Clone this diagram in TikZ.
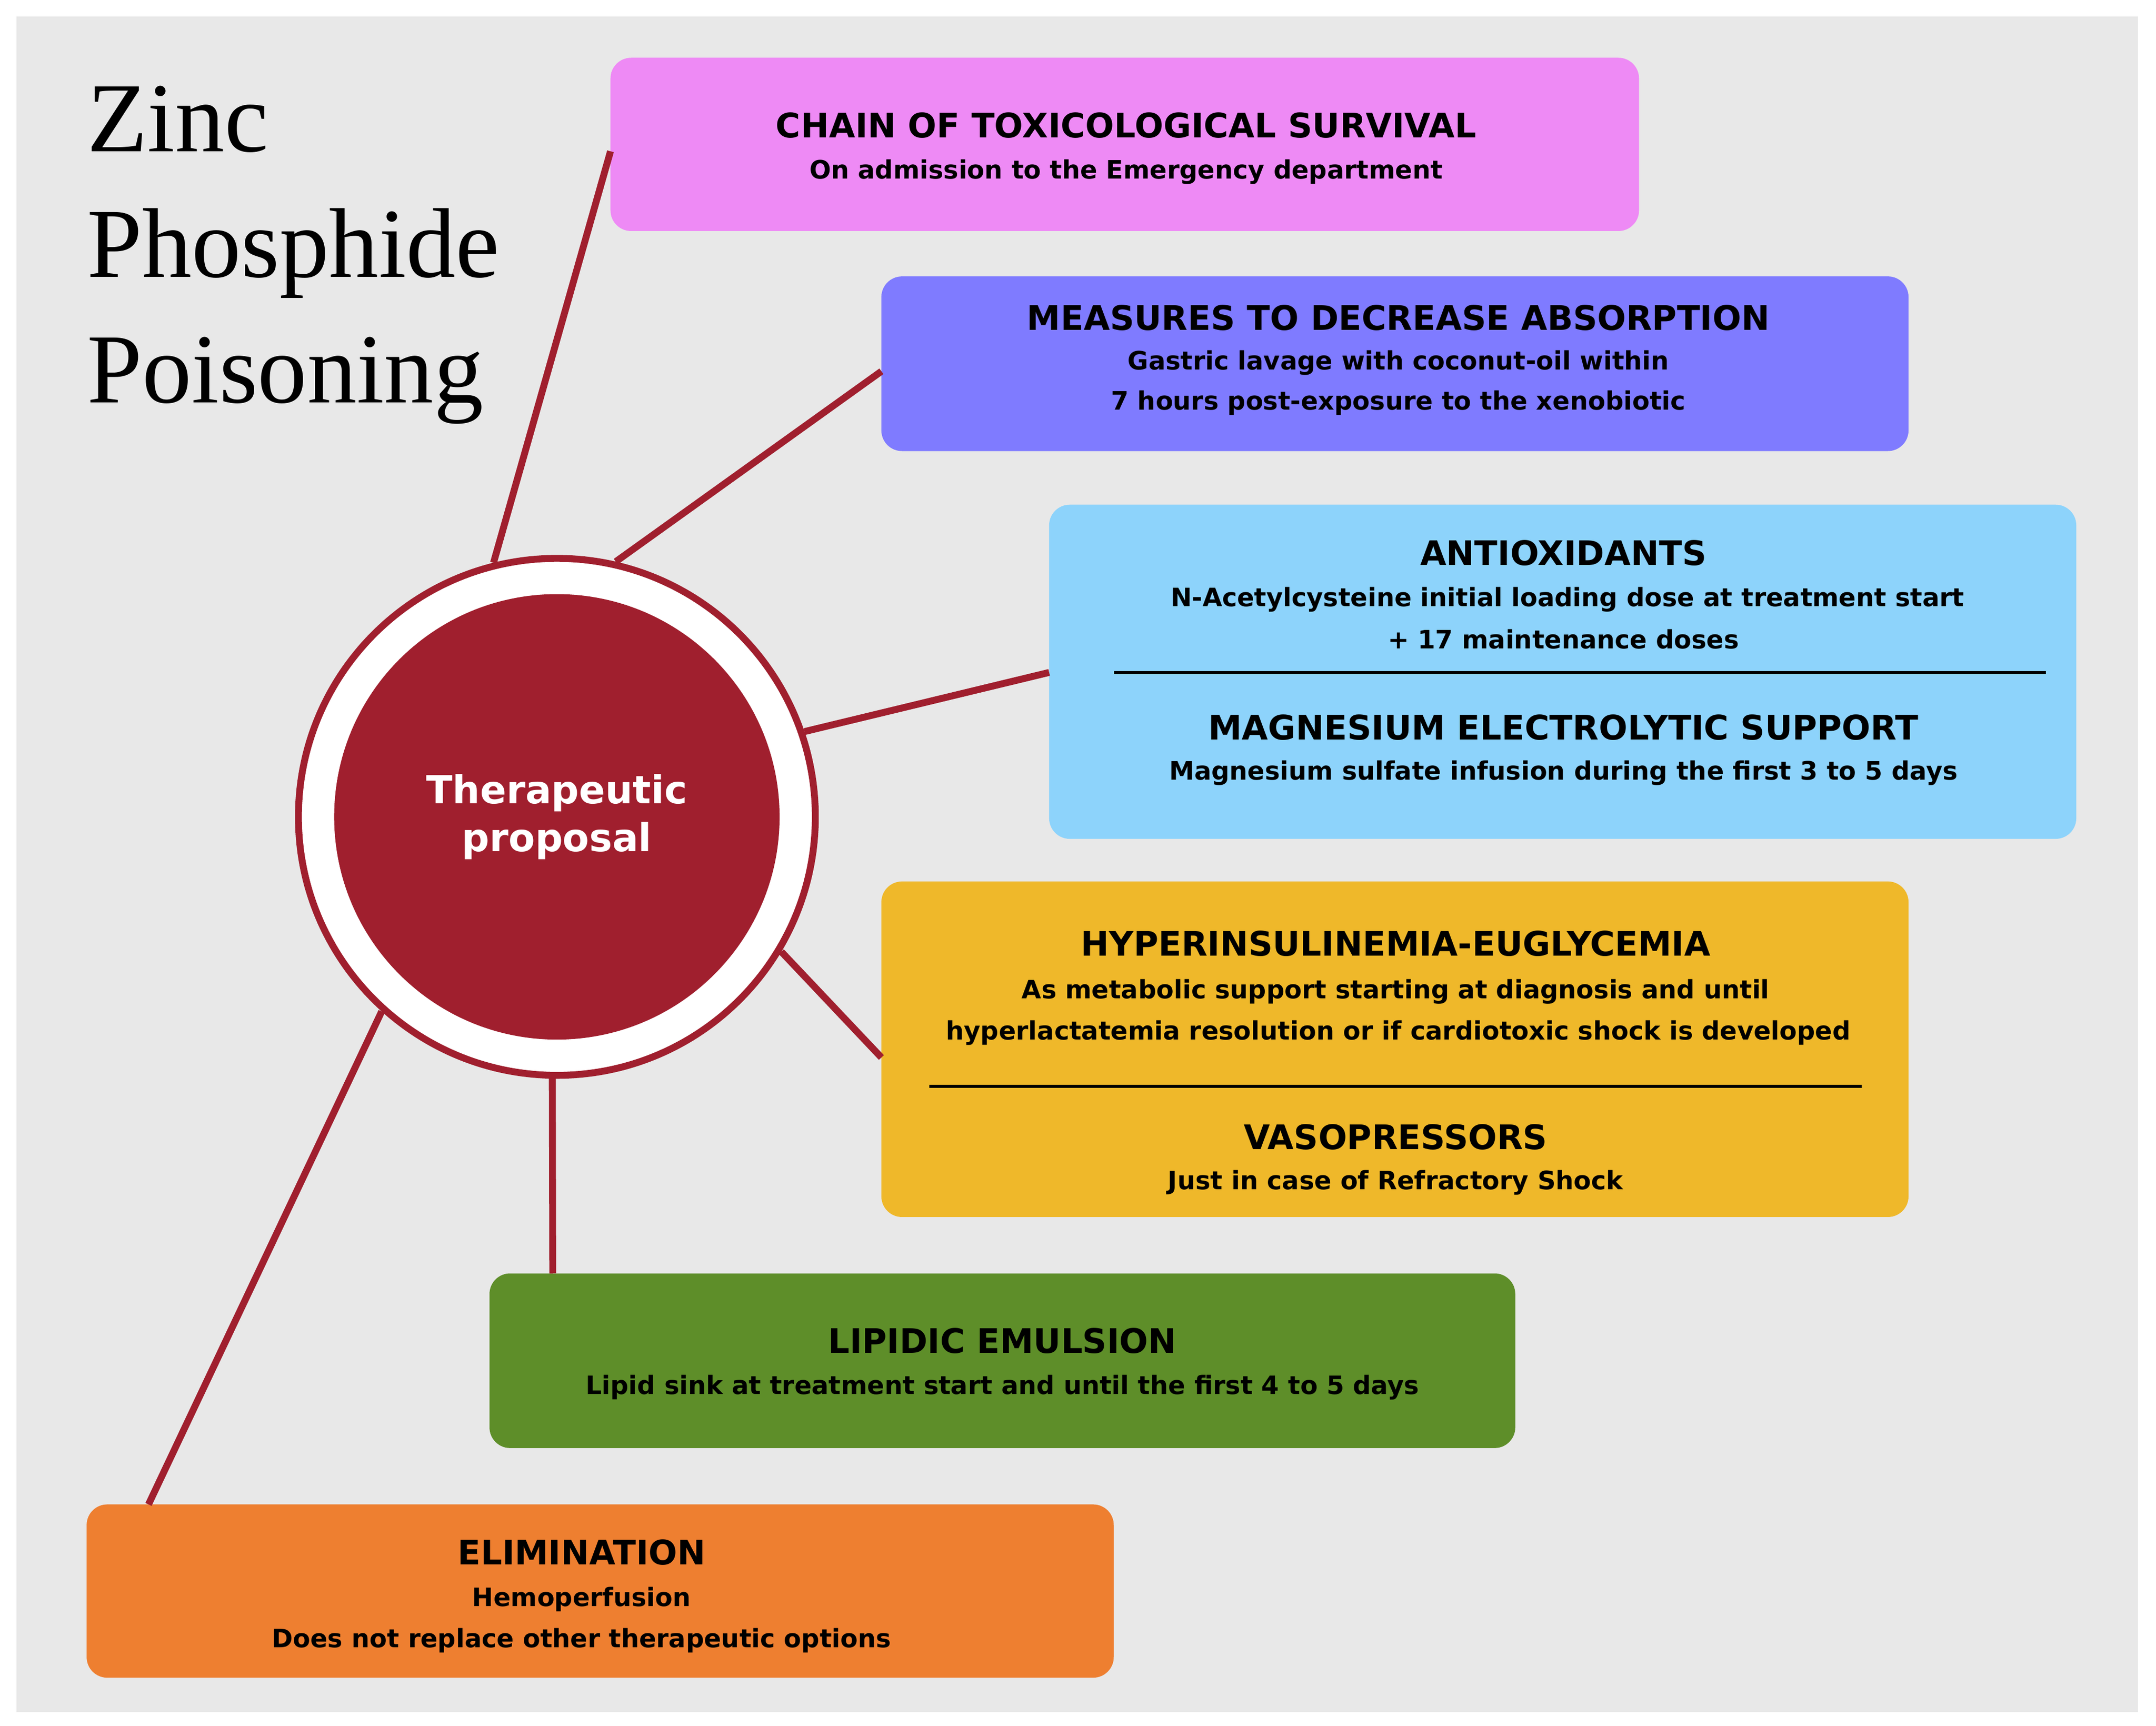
\documentclass[tikz,border=0pt]{standalone}
\usepackage{fontspec}
\setmainfont{DejaVu Sans}
\newfontfamily\titlefont{Liberation Serif}
\usetikzlibrary{calc}
\definecolor{bg}{HTML}{E8E8E8}
\definecolor{dred}{HTML}{A01F2E}
\definecolor{cpink}{HTML}{EE8AF5}
\definecolor{cpurple}{HTML}{7F7BFF}
\definecolor{cblue}{HTML}{8DD3FB}
\definecolor{cyellow}{HTML}{EFB82A}
\definecolor{cgreen}{HTML}{5E8E29}
\definecolor{corange}{HTML}{EE7F30}
\begin{document}
\begin{tikzpicture}[x=0.02cm,y=-0.02cm,
  box/.style={rounded corners=0.3cm,inner sep=0pt},
  hd/.style={font=\fontsize{14}{16}\selectfont\bfseries,inner sep=0pt},
  bd/.style={font=\fontsize{10.5}{12}\selectfont\bfseries,inner sep=0pt},
  conn/.style={dred,line width=0.1cm},
  divl/.style={black,line width=0.045cm}]
\useasboundingbox (0,0) rectangle (1568,1255);
\fill[bg] (12,12) rectangle (1555,1245);
% boxes
\path[box,fill=cpink] (444,42) rectangle (1192,168);
\coordinate (b1w) at (444,110);
\path[box,fill=cpurple] (641,201) rectangle (1388,328);
\coordinate (b2w) at (641,270);
\path[box,fill=cblue] (763,367) rectangle (1510,610);
\coordinate (b3w) at (763,489);
\path[box,fill=cyellow] (641,641) rectangle (1388,885);
\coordinate (b4w) at (641,769);
\path[box,fill=cgreen] (356,926) rectangle (1102,1053);
\coordinate (b5n) at (402,926);
\path[box,fill=corange] (63,1094) rectangle (810,1220);
\coordinate (b6n) at (108,1094);
% title
\node[font=\titlefont\fontsize{41}{52}\selectfont,align=left,anchor=north west,inner sep=0pt] (title) at (63,62) {Zinc\\Phosphide\\Poisoning};
% circle
\node[circle,draw=dred,fill=white,line width=0.1cm,minimum size=7.52cm,inner sep=0pt] (c) at (405,594) {};
\node[circle,fill=dred,minimum size=6.48cm,inner sep=0pt,text=white,align=center,font=\fontsize{16}{20}\selectfont\bfseries] (ci) at (405,594) {Therapeutic\\proposal};
% connectors
\draw[conn] (c.104) -- (b1w);
\draw[conn] (c.77) -- (b2w);
\draw[conn] (c.19) -- (b3w);
\draw[conn] (c.-31) -- (b4w);
\draw[conn] (c.-91) -- (b5n);
\draw[conn] (c.-132) -- (b6n);
% dividers
\coordinate (d3a) at (810,489); \coordinate (d3b) at (1488,489);
\draw[divl] (d3a) -- (d3b);
\coordinate (d4a) at (676,790); \coordinate (d4b) at (1354,790);
\draw[divl] (d4a) -- (d4b);
% texts
\node[hd] (t1) at (819,91) {CHAIN OF TOXICOLOGICAL SURVIVAL};
\node[bd] (s1) at (819,125) {On admission to the Emergency department};
\node[hd] (t2) at (1017,231) {MEASURES TO DECREASE ABSORPTION};
\node[bd] (s2a) at (1017,264) {Gastric lavage with coconut-oil within};
\node[bd] (s2b) at (1017,293) {7 hours post-exposure to the xenobiotic};
\node[hd] (t3) at (1137,402) {ANTIOXIDANTS};
\node[bd] (s3a) at (1140,436) {N-Acetylcysteine initial loading dose at treatment start};
\node[bd] (s3b) at (1137,465) {+ 17 maintenance doses};
\node[hd] (t3b) at (1137,529) {MAGNESIUM ELECTROLYTIC SUPPORT};
\node[bd] (s3c) at (1137,562) {Magnesium sulfate infusion during the first 3 to 5 days};
\node[hd] (t4) at (1015,686) {HYPERINSULINEMIA-EUGLYCEMIA};
\node[bd] (s4a) at (1015,721) {As metabolic support starting at diagnosis and until};
\node[bd] (s4b) at (1017,751) {hyperlactatemia resolution or if cardiotoxic shock is developed};
\node[hd] (t4b) at (1015,827) {VASOPRESSORS};
\node[bd] (s4c) at (1015,860) {Just in case of Refractory Shock};
\node[hd] (t5) at (729,975) {LIPIDIC EMULSION};
\node[bd] (s5) at (729,1009) {Lipid sink at treatment start and until the first 4 to 5 days};
\node[hd] (t6) at (423,1129) {ELIMINATION};
\node[bd] (s6a) at (423,1163) {Hemoperfusion};
\node[bd] (s6b) at (423,1193) {Does not replace other therapeutic options};
\end{tikzpicture}
\end{document}
